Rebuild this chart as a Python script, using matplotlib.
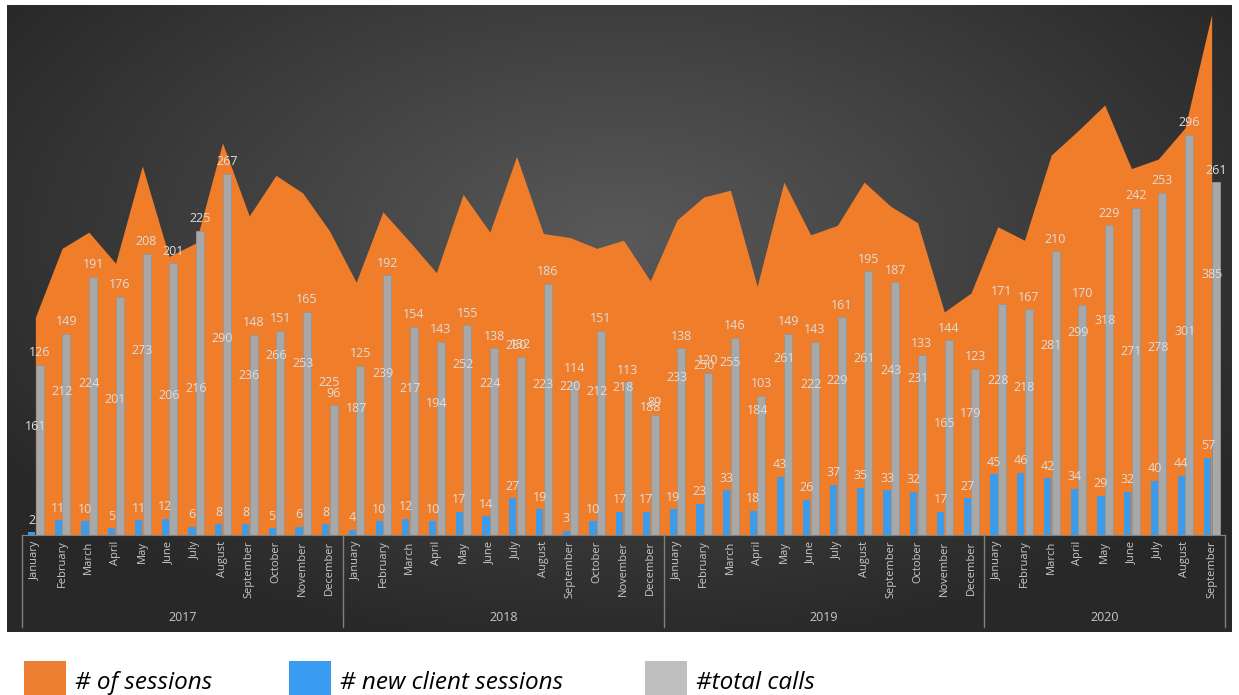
import numpy as np
import matplotlib
matplotlib.use('Agg')
import matplotlib.pyplot as plt
from matplotlib.patches import Rectangle

plt.rcParams['font.family'] = ['Open Sans', 'DejaVu Sans']

# Datos
years = ['2017', '2018', '2019', '2020']
months = ['January', 'February', 'March', 'April', 'May', 'June', 'July',
          'August', 'September', 'October', 'November', 'December']
months_per_year = [12, 12, 12, 9]

sessions = [161, 212, 224, 201, 273, 206, 216, 290, 236, 266, 253, 225,
            187, 239, 217, 194, 252, 224, 280, 223, 220, 212, 218, 188,
            233, 250, 255, 184, 261, 222, 229, 261, 243, 231, 165, 179,
            228, 218, 281, 299, 318, 271, 278, 301, 385]
new_clients = [2, 11, 10, 5, 11, 12, 6, 8, 8, 5, 6, 8,
               4, 10, 12, 10, 17, 14, 27, 19, 3, 10, 17, 17,
               19, 23, 33, 18, 43, 26, 37, 35, 33, 32, 17, 27,
               45, 46, 42, 34, 29, 32, 40, 44, 57]
total_calls = [126, 149, 191, 176, 208, 201, 225, 267, 148, 151, 165, 96,
               125, 192, 154, 143, 155, 138, 132, 186, 114, 151, 113, 89,
               138, 120, 146, 103, 149, 143, 161, 195, 187, 133, 144, 123,
               171, 167, 210, 170, 229, 242, 253, 296, 261]

labels = []
for n in months_per_year:
    labels += months[:n]
x = np.arange(len(sessions))

W, H = 1239, 695
fig = plt.figure(figsize=(W / 100, H / 100), dpi=100)
fig.patch.set_facecolor('white')

# Fondo oscuro con degradado radial
bg = fig.add_axes([7 / W, (H - 632) / H, 1225 / W, 627 / H])
gx, gy = np.meshgrid(np.linspace(-1, 1, 400), np.linspace(-1, 1, 220))
dist = np.sqrt((gx / 1.0) ** 2 + ((gy + 0.25) / 1.1) ** 2)
dist = np.clip(dist / 1.2, 0, 1)
shade = 0.35 - 0.19 * dist
bg.imshow(np.dstack([shade, shade, shade]), aspect='auto', extent=[0, 1, 0, 1], origin='upper')
bg.axis('off')

# Area del grafico
ax = fig.add_axes([22 / W, (H - 535) / H, 1203 / W, 530 / H])
ax.patch.set_alpha(0)
ax.set_xlim(-0.5, len(x) - 0.5)
ax.set_ylim(0, 392)

ax.fill_between(x, sessions, color='#f07d2a', zorder=1, linewidth=0)
ax.bar(x - 0.14, new_clients, width=0.27, color='#3d9be9', zorder=2)
ax.bar(x + 0.16, total_calls, width=0.30, color='#a8a8a8', edgecolor='#959595', linewidth=0.6, zorder=2)

lbl_color = '#dedede'
for i in range(len(x)):
    ax.text(x[i], sessions[i] / 2, str(sessions[i]), ha='center', va='center',
            fontsize=9, color=lbl_color, zorder=4)
    ax.annotate(str(total_calls[i]), (x[i] + 0.16, total_calls[i]), xytext=(0, 4),
                textcoords='offset points', ha='center', va='bottom',
                fontsize=9, color=lbl_color, zorder=4)
    ax.annotate(str(new_clients[i]), (x[i] - 0.14, new_clients[i]), xytext=(0, 4),
                textcoords='offset points', ha='center', va='bottom',
                fontsize=9, color=lbl_color, zorder=4)

for s in ['top', 'right', 'left']:
    ax.spines[s].set_visible(False)
ax.spines['bottom'].set_color('#808080')
ax.set_yticks([])
ax.set_xticks(x)
ax.set_xticklabels(labels, rotation=90, fontsize=8, color='#c8c8c8')
ax.tick_params(axis='x', length=0, pad=4)

# Separadores y etiquetas de año
trans = ax.get_xaxis_transform()
start = 0
bounds = [-0.5]
for year, n in zip(years, months_per_year):
    ax.text(start + (n - 1) / 2, -0.155, year, transform=trans, ha='center', va='center',
            fontsize=9, color='#c8c8c8')
    start += n
    bounds.append(start - 0.5)
for b in bounds:
    ax.plot([b, b], [0, -0.174], transform=trans, color='#808080', linewidth=1, clip_on=False)

# Leyenda
legend_items = [('# of sessions', '#ed7d31', 24), ('# new client sessions', '#3a9cf0', 289),
                ('#total calls', '#bfbfbf', 645)]
for text, color, px in legend_items:
    fig.patches.append(Rectangle((px / W, 0), 42 / W, 34 / H, transform=fig.transFigure,
                                 facecolor=color, edgecolor='none'))
    fig.text((px + 51) / W, (H - 683) / H, text, fontsize=17.5, style='italic',
             color='black', ha='left', va='center')

fig.savefig('out.png', dpi=100)
